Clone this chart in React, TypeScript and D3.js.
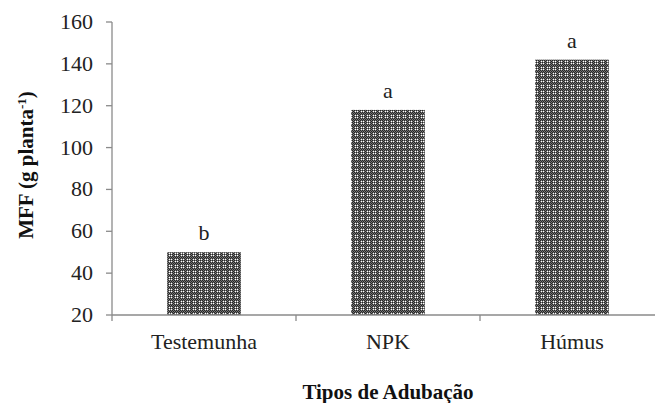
import React from "react";
import * as d3 from "d3";

const categories = ["Testemunha", "NPK", "Húmus"];
const values = [50, 118, 142];
const letters = ["b", "a", "a"];
const yTicks = [20, 40, 60, 80, 100, 120, 140, 160];

const W = 655;
const H = 403;
const FONT = "Liberation Serif";

export default function App() {
  const y = d3.scaleLinear().domain([20, 160]).range([315, 22]);
  const x = d3.scaleBand().domain(categories).range([112, 664]).paddingInner(0.6).paddingOuter(0.3);
  const bounds = d3.range(categories.length + 1).map((i) => 112 + (i * (664 - 112)) / categories.length);
  const axisColor = "#8a8a8a";
  const pat: [number, number, string][] = [];
  for (let i = 0; i < 6; i++) for (let j = 0; j < 6; j++) {
    const c = (i + j) % 2 === 0 ? "#262626" : "#747474";
    pat.push([i, j, c]);
  }
  const whites: [number, number][] = [[1, 1], [3, 3], [1, 3], [3, 1]];
  return (
    <svg width={W} height={H} fontFamily={FONT} style={{ display: "block", position: "absolute", left: 0, top: 0, fontFamily: `"${FONT}"` }}>
      <defs>
        <pattern id="hatch" patternUnits="userSpaceOnUse" width={6} height={6}>
          {pat.map(([i, j, c]) => (
            <rect key={`${i}-${j}`} x={i} y={j} width={1} height={1} fill={c} />
          ))}
          {whites.map(([i, j]) => (
            <rect key={`w${i}-${j}`} x={i} y={j} width={1} height={1} fill="#ffffff" />
          ))}
        </pattern>
      </defs>
      {categories.map((c, i) => (
        <rect
          key={c}
          x={x(c)}
          y={y(values[i])}
          width={x.bandwidth()}
          height={y(20) - y(values[i])}
          fill="url(#hatch)"
        />
      ))}
      {categories.map((c, i) => (
        <text
          key={"l" + c}
          x={(x(c) as number) + x.bandwidth() / 2}
          y={y(values[i]) - 12}
          textAnchor="middle"
          style={{ fontFamily: `"${FONT}"`, fontSize: 22 }}
          fill="#222"
        >
          {letters[i]}
        </text>
      ))}
      <line x1={112} x2={112} y1={y(160)} y2={y(20)} stroke={axisColor} strokeWidth={1.3} />
      {yTicks.map((t) => (
        <g key={t}>
          <line x1={106} x2={112} y1={y(t)} y2={y(t)} stroke={axisColor} strokeWidth={1.3} />
          <text x={93} y={y(t) + 7} textAnchor="end" style={{ fontFamily: `"${FONT}"`, fontSize: 22 }} fill="#222">
            {t}
          </text>
        </g>
      ))}
      <line x1={112} x2={W} y1={y(20)} y2={y(20)} stroke={axisColor} strokeWidth={1.3} />
      {bounds.map((b, i) => (
        <line key={"b" + i} x1={b} x2={b} y1={y(20)} y2={y(20) + 6} stroke={axisColor} strokeWidth={1.3} />
      ))}
      {categories.map((c) => (
        <text
          key={"x" + c}
          x={(x(c) as number) + x.bandwidth() / 2}
          y={349}
          textAnchor="middle"
          style={{ fontFamily: `"${FONT}"`, fontSize: 22 }}
          fill="#222"
        >
          {c}
        </text>
      ))}
      <text x={388} y={399} textAnchor="middle" style={{ fontFamily: `"${FONT}"`, fontSize: 21, fontWeight: 700 }} fill="#111">
        Tipos de Adubação
      </text>
      <text
        transform={`translate(33,165) rotate(-90)`}
        textAnchor="middle"
        style={{ fontFamily: `"${FONT}"`, fontSize: 21, fontWeight: 700 }}
        fill="#111"
      >
        MFF (g planta<tspan dy={-7} style={{ fontSize: 13 }}>-1</tspan>
        <tspan dy={7}>)</tspan>
      </text>
    </svg>
  );
}
